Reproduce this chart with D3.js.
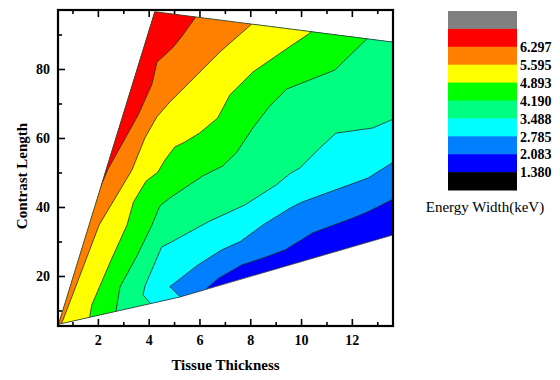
<!DOCTYPE html>
<html>
<head>
<meta charset="utf-8">
<script src="https://cdn.jsdelivr.net/npm/d3@7"></script>
<style>
  body { margin: 0; background: #fff; }
  svg { display: block; font-family: "Liberation Serif", "Times New Roman", serif; }
</style>
</head>
<body>
<div id="chart"></div>
<script>
// contour levels (keV), lowest first
var levels = [1.380, 2.083, 2.785, 3.488, 4.190, 4.893, 5.595, 6.297];
// band colours, lowest band first (black below 1.380 ... grey on top)
var bandColors = ["#000000", "#0000ff", "#0080ff", "#00ffff", "#00ff80", "#00ff00", "#ffff00", "#ff8000", "#ff0000", "#808080"];

// outline of the sampled area [Tissue Thickness, Contrast Length]
var region = [[0.45, 6.0], [4.24, 96.6], [13.62, 87.8], [13.62, 31.9], [5.23, 13.9]];

// contour lines, each from its lower/left end
var line2083 = [[6.35, 14], [6.29, 16.4], [6.74, 19.3], [7.66, 23.2], [8.5, 25.2], [9.36, 27.5], [10.46, 32.5], [12.04, 36.8], [12.63, 38.6], [13.63, 42.3], [13.9, 43.3]];
var line2785 = [[5.3, 12], [5.23, 14], [4.83, 16.9], [5.94, 23.2], [6.86, 27.5], [7.59, 29.9], [8.5, 34.8], [9.57, 39.7], [10.03, 41.4], [11.33, 44.9], [12.64, 48.4], [13.63, 53], [13.9, 54]];
var line3488 = [[4.15, 10], [4.05, 12.2], [3.78, 14.5], [3.85, 17], [4.51, 28.4], [4.83, 29.6], [6.37, 35.8], [7.79, 40.6], [9.04, 46.5], [9.57, 49.7], [9.95, 51.3], [10.74, 57.1], [11.37, 61.4], [12.82, 62.9], [13.8, 66]];
var line4190 = [[2.75, 7], [2.72, 10], [2.75, 11.6], [2.87, 16.8], [3.55, 26], [4.13, 34.8], [4.44, 40.3], [4.83, 42.6], [6.13, 49.0], [6.92, 51.9], [7.47, 55.9], [8.1, 62.9], [8.77, 69.3], [9.44, 74.2], [11.33, 79.7], [12.59, 88.7], [12.7, 92]];
var line4893 = [[1.62, 5], [1.69, 8.7], [1.76, 11.6], [2.52, 24.6], [3.15, 34.8], [3.4, 41.4], [3.9, 47.5], [4.36, 50.1], [4.64, 53.6], [5.03, 57.4], [5.42, 58.8], [6.0, 61.4], [6.72, 65.8], [7.2, 72.5], [8.1, 79.1], [9.48, 86.1], [10.35, 90.4], [10.5, 92]];
var line5595 = [[0.4, 3], [0.75, 9.6], [2.05, 34.8], [3.34, 50.7], [3.85, 60], [4.32, 66.1], [4.83, 70.4], [5.62, 76.2], [6.8, 84.9], [8.1, 93.3], [8.3, 97]];
var line6297 = [[2.0, 44], [2.4, 51], [2.93, 58], [3.59, 66.7], [4.12, 75.4], [4.33, 82], [4.95, 86.2], [5.3, 89.4], [5.9, 95.6], [6.0, 99]];

var xTicks = [2, 4, 6, 8, 10, 12];
var xMinor = [1, 3, 5, 7, 9, 11, 13];
var yTicks = [20, 40, 60, 80];
var yMinor = [10, 30, 50, 70, 90];
var legendTitle = "Energy Width(keV)";

var contourLines = [line2083, line2785, line3488, line4190, line4893, line5595, line6297];

var svg = d3
  .select("#chart")
  .append("svg")
  .attr("width", 560)
  .attr("height", 380);

var plot = { left: 58, right: 393, top: 10, bottom: 326 };

var x = d3.scaleLinear().domain([0.43, 13.62]).range([plot.left, plot.right]);
var y = d3.scaleLinear().domain([5.5, 97.1]).range([plot.bottom, plot.top]);

var path = d3.line().x((d) => x(d[0])).y((d) => y(d[1]));

svg
  .append("clipPath")
  .attr("id", "wedge")
  .append("path")
  .attr("d", path(region) + "Z");

var bands = svg.append("g").attr("clip-path", "url(#wedge)");

// lowest band fills the whole area, each higher band is painted above-left of its line
bands
  .append("path")
  .attr("d", path(region) + "Z")
  .attr("fill", bandColors[1]);

// x of the left edge of the area at a given contrast length
function leftEdge(v) {
  var a = region[0], b = region[1];
  return a[0] + ((v - a[1]) / (b[1] - a[1])) * (b[0] - a[0]);
}

contourLines.forEach(function (line, i) {
  var first = line[0];
  var last = line[line.length - 1];
  var closing = [[last[0], 110], [-1, 110]];
  if (first[0] < leftEdge(first[1])) {
    closing.push([-1, first[1]]);
  } else {
    closing.push([-1, -5], [first[0], -5]);
  }
  bands
    .append("path")
    .attr("d", path(line.concat(closing)) + "Z")
    .attr("fill", bandColors[i + 2]);
});

contourLines.forEach(function (line) {
  bands
    .append("path")
    .attr("d", path(line))
    .attr("fill", "none")
    .attr("stroke", "#2a2a2a")
    .attr("stroke-width", 0.8);
});

svg
  .append("path")
  .attr("d", path(region) + "Z")
  .attr("fill", "none")
  .attr("stroke", "#333")
  .attr("stroke-width", 0.8);

// axes, ticks pointing inward
function styleAxis(g) {
  g.select(".domain").remove();
  g.selectAll(".tick line").attr("stroke", "#000").attr("stroke-width", 1.6);
  g.selectAll("text")
    .attr("fill", "#000")
    .style("font-family", "'Liberation Serif', 'Times New Roman', serif")
    .style("font-size", "14px")
    .style("font-weight", "bold");
}

svg
  .append("g")
  .attr("transform", "translate(0," + plot.bottom + ")")
  .call(d3.axisBottom(x).tickValues(xTicks).tickSize(-7).tickPadding(9).tickFormat(d3.format("d")))
  .call(styleAxis);
svg
  .append("g")
  .attr("transform", "translate(0," + plot.bottom + ")")
  .call(d3.axisBottom(x).tickValues(xMinor).tickSize(-4).tickFormat(""))
  .call(styleAxis);
svg
  .append("g")
  .attr("transform", "translate(0," + plot.top + ")")
  .call(d3.axisTop(x).tickValues(xTicks).tickSize(-7).tickFormat(""))
  .call(styleAxis);
svg
  .append("g")
  .attr("transform", "translate(0," + plot.top + ")")
  .call(d3.axisTop(x).tickValues(xMinor).tickSize(-4).tickFormat(""))
  .call(styleAxis);
svg
  .append("g")
  .attr("transform", "translate(" + plot.left + ",0)")
  .call(d3.axisLeft(y).tickValues(yTicks).tickSize(-7).tickPadding(8).tickFormat(d3.format("d")))
  .call(styleAxis);
svg
  .append("g")
  .attr("transform", "translate(" + plot.left + ",0)")
  .call(d3.axisLeft(y).tickValues(yMinor).tickSize(-4).tickFormat(""))
  .call(styleAxis);

svg
  .append("rect")
  .attr("x", plot.left)
  .attr("y", plot.top)
  .attr("width", plot.right - plot.left)
  .attr("height", plot.bottom - plot.top)
  .attr("fill", "none")
  .attr("stroke", "#000")
  .attr("stroke-width", 2.2);

svg
  .append("text")
  .attr("x", (plot.left + plot.right) / 2)
  .attr("y", 370)
  .attr("text-anchor", "middle")
  .style("font-size", "15px")
  .style("font-weight", "bold")
  .text("Tissue Thickness");

svg
  .append("text")
  .attr("transform", "translate(27,176) rotate(-90)")
  .attr("text-anchor", "middle")
  .style("font-size", "15px")
  .style("font-weight", "bold")
  .text("Contrast Length");

// colour scale legend, highest band on top
var legendColors = bandColors.slice().reverse();
var legendY = d3.scaleBand().domain(d3.range(legendColors.length)).range([11, 190]);

svg
  .selectAll(".legend-band")
  .data(legendColors)
  .enter()
  .append("rect")
  .attr("class", "legend-band")
  .attr("x", 448)
  .attr("y", (d, i) => legendY(i))
  .attr("width", 69)
  .attr("height", legendY.bandwidth() + 0.5)
  .attr("fill", (d) => d);

svg
  .selectAll(".legend-label")
  .data(levels.slice().reverse())
  .enter()
  .append("text")
  .attr("class", "legend-label")
  .attr("x", 520)
  .attr("y", (d, i) => legendY(i + 2) + 2)
  .attr("dominant-baseline", "middle")
  .style("font-size", "14px")
  .style("font-weight", "bold")
  .text((d) => d.toFixed(3));

svg
  .append("text")
  .attr("x", 485)
  .attr("y", 212)
  .attr("text-anchor", "middle")
  .style("font-size", "15px")
  .text(legendTitle);
</script>
</body>
</html>
